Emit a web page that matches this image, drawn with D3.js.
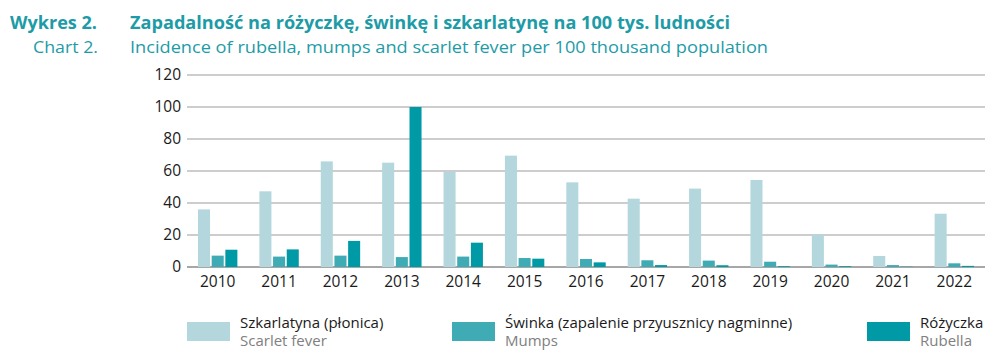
<!DOCTYPE html>
<html>
<head>
<meta charset="utf-8">
<script src="https://cdn.jsdelivr.net/npm/d3@7"></script>
<style>
  body { margin: 0; background: #fff; }
  svg text { font-family: "Open Sans", "Noto Sans", sans-serif; }
</style>
</head>
<body>
<svg id="chart"></svg>
<script>
const years = ["2010","2011","2012","2013","2014","2015","2016","2017","2018","2019","2020","2021","2022"];
const scarlet = [36, 47.3, 66, 65.2, 59.4, 69.6, 52.9, 42.7, 49, 54.4, 20.2, 6.9, 33.3];
const mumps = [7.1, 6.5, 7.1, 6.2, 6.5, 5.6, 5, 4.2, 4, 3.3, 1.5, 1.2, 2.3];
const rubella = [10.8, 11, 16.3, 100, 15.2, 5.2, 2.9, 1.2, 1.1, 0.5, 0.5, 0.2, 0.7];
const yTicks = [0, 20, 40, 60, 80, 100, 120];

const series = [
  { key: "scarlet", values: scarlet, color: "#b3d7dc", pl: "Szkarlatyna (płonica)", en: "Scarlet fever" },
  { key: "mumps", values: mumps, color: "#3eabb5", pl: "Świnka (zapalenie przyusznicy nagminne)", en: "Mumps" },
  { key: "rubella", values: rubella, color: "#0099a6", pl: "Różyczka", en: "Rubella" }
];

const width = 1000, height = 361;
const teal = "#1d9ba7";

const svg = d3.select("#chart").attr("width", width).attr("height", height);

// titles
svg.append("text").attr("x", 10).attr("y", 29)
  .attr("font-size", 17).attr("font-weight", "bold").attr("fill", teal)
  .attr("textLength", 87).attr("lengthAdjust", "spacingAndGlyphs")
  .text("Wykres 2.");
svg.append("text").attr("x", 130).attr("y", 29)
  .attr("font-size", 17).attr("font-weight", "bold").attr("fill", teal)
  .attr("textLength", 600).attr("lengthAdjust", "spacingAndGlyphs")
  .text("Zapadalność na różyczkę, świnkę i szkarlatynę na 100 tys. ludności");
svg.append("text").attr("x", 98).attr("y", 53).attr("text-anchor", "end")
  .attr("font-size", 16.5).attr("fill", teal)
  .attr("textLength", 65).attr("lengthAdjust", "spacingAndGlyphs")
  .text("Chart 2.");
svg.append("text").attr("x", 130).attr("y", 53)
  .attr("font-size", 16.5).attr("fill", teal)
  .attr("textLength", 638).attr("lengthAdjust", "spacingAndGlyphs")
  .text("Incidence of rubella, mumps and scarlet fever per 100 thousand population");

// scales
const x = d3.scaleBand().domain(years).range([187, 985]).padding(0);
const xs = d3.scaleBand().domain(series.map(d => d.key))
  .range([11, x.bandwidth() - 11]).paddingInner(0.12);
const y = d3.scaleLinear().domain([0, 120]).range([267, 75]);

// grid
svg.append("g").selectAll("line").data(yTicks).join("line")
  .attr("x1", 187).attr("x2", 985)
  .attr("y1", d => y(d)).attr("y2", d => y(d))
  .attr("stroke", d => d === 0 ? "#8a8a8a" : "#bdbdbd")
  .attr("stroke-width", 1.5);

// y axis labels
const yAxis = svg.append("g").attr("transform", "translate(181,0)")
  .call(d3.axisLeft(y).tickValues(yTicks).tickSize(0).tickPadding(0));
yAxis.select(".domain").remove();
yAxis.selectAll("text").attr("font-size", 15.5).attr("fill", "#1a1a1a")
  .attr("font-family", "'Open Sans', sans-serif");

// bars
const groups = svg.append("g").selectAll("g").data(years).join("g")
  .attr("transform", d => `translate(${x(d)},0)`);
groups.selectAll("rect")
  .data((yr, i) => series.map(s => ({ key: s.key, color: s.color, v: s.values[i] })))
  .join("rect")
  .attr("x", d => xs(d.key))
  .attr("width", xs.bandwidth())
  .attr("y", d => y(d.v))
  .attr("height", d => y(0) - y(d.v))
  .attr("fill", d => d.color);

// x axis labels
const xAxis = svg.append("g").attr("transform", "translate(0,276)")
  .call(d3.axisBottom(x).tickSize(0).tickPadding(0));
xAxis.select(".domain").remove();
xAxis.selectAll("text").attr("font-size", 15.5).attr("fill", "#1a1a1a")
  .attr("font-family", "'Open Sans', sans-serif");

// legend
const legendX = [187, 452, 867];
const legend = svg.append("g").selectAll("g").data(series).join("g")
  .attr("transform", (d, i) => `translate(${legendX[i]},0)`);
legend.append("rect").attr("x", 0).attr("y", 322).attr("width", 43).attr("height", 19)
  .attr("fill", d => d.color);
legend.append("text").attr("x", 53).attr("y", 328).attr("font-size", 15).attr("fill", "#1a1a1a")
  .text(d => d.pl);
legend.append("text").attr("x", 53).attr("y", 346).attr("font-size", 15).attr("fill", "#808080")
  .text(d => d.en);
</script>
</body>
</html>
